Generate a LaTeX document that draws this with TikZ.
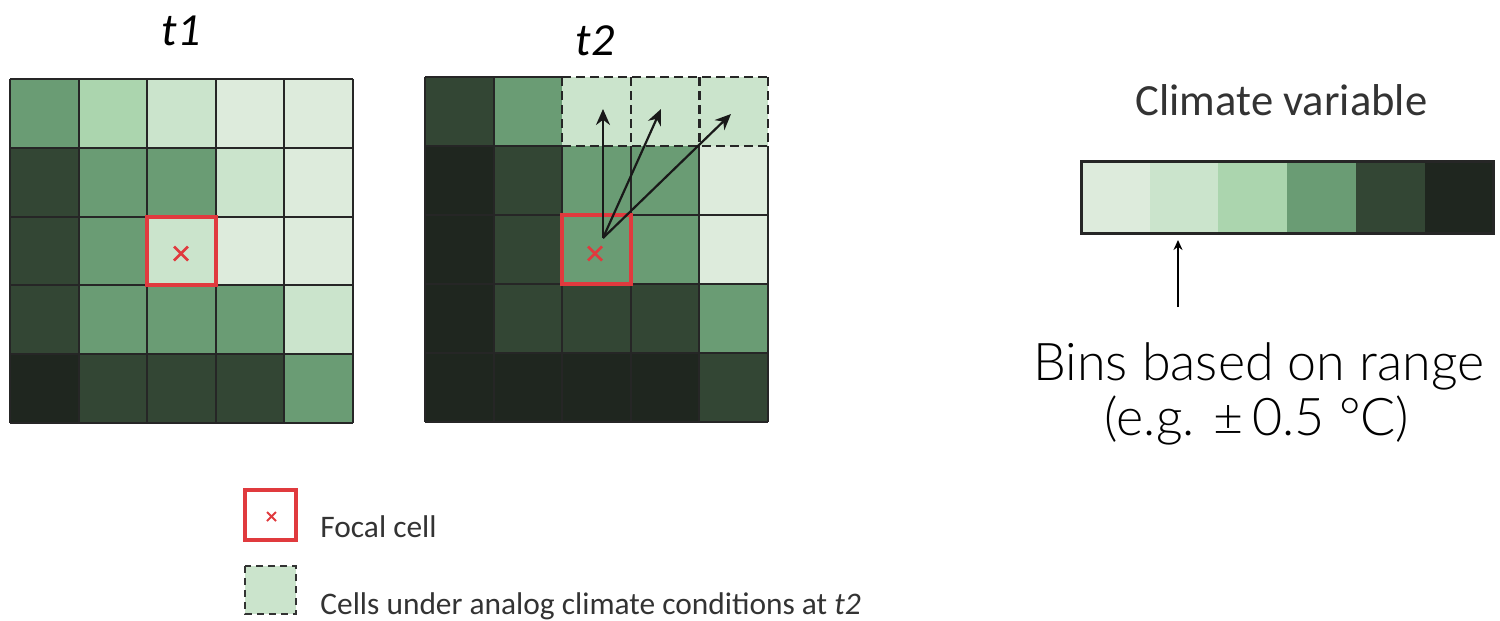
\documentclass[tikz,border=0pt]{standalone}
\usepackage{fontspec}
\newfontfamily\calfont{Carlito}
\IfFontExistsTF{Lato Light}{\newfontfamily\binfont{Lato Light}}{\newfontfamily\binfont{Lato}}
\usetikzlibrary{arrows.meta}
\definecolor{cA}{HTML}{DDEBDC}
\definecolor{cB}{HTML}{CBE4CC}
\definecolor{cC}{HTML}{ABD5AE}
\definecolor{cD}{HTML}{6A9C74}
\definecolor{cE}{HTML}{334634}
\definecolor{cF}{HTML}{1F261F}
\definecolor{focalred}{HTML}{E03A3E}
\definecolor{txtgray}{HTML}{333333}
\tikzset{
  gl/.style={draw=black!85, line width=1pt},
  dl/.style={draw=black!85, line width=1.1pt, dash pattern=on 4.5pt off 2.5pt},
  focal/.style={draw=focalred, line width=2pt},
  xmark/.style={draw=focalred, line width=1.4pt},
  arr/.style={draw=black!90, line width=1.1pt, -{Stealth[length=8pt,width=7pt]}},
  ttl/.style={font=\calfont\itshape\fontsize{23}{28}\selectfont, anchor=base, inner sep=0pt},
  leg/.style={font=\calfont\fontsize{15.7}{19}\selectfont, text=txtgray, anchor=base west, inner sep=0pt},
  bintxt/.style={font=\binfont\fontsize{26}{30}\selectfont, anchor=base, inner sep=0pt},
}
\begin{document}
\begin{tikzpicture}[x=0.5pt,y=-0.5pt]
\useasboundingbox (0,0) rectangle (1500,621);

% ---------- t1 grid ----------
\foreach \row [count=\r from 0] in {{cD,cC,cB,cA,cA},{cE,cD,cD,cB,cA},{cE,cD,cB,cA,cA},{cE,cD,cD,cD,cB},{cF,cE,cE,cE,cD}}{
  \foreach \col [count=\c from 0] in \row {
    \fill[\col] ({10+\c*68.6},{79+\r*68.8}) rectangle ++(68.6,68.8);
  }
}
\foreach \i in {0,...,5}{
  \draw[gl] ({10+\i*68.6},79) -- ({10+\i*68.6},423);
  \draw[gl] (10,{79+\i*68.8}) -- (353,{79+\i*68.8});
}
\draw[focal] (147.2,216.6) rectangle (215.8,285.4);
\draw[xmark] (174,246.5) -- (188,260.5) (174,260.5) -- (188,246.5);
\node[ttl] (t1) at (181,45) {t1};

% ---------- t2 grid ----------
\foreach \row [count=\r from 0] in {{cE,cD,cB,cB,cB},{cF,cE,cD,cD,cA},{cF,cE,cD,cD,cA},{cF,cE,cE,cE,cD},{cF,cF,cF,cF,cE}}{
  \foreach \col [count=\c from 0] in \row {
    \fill[\col] ({425+\c*68.6},{77+\r*69}) rectangle ++(68.6,69);
  }
}
\foreach \i in {0,1}{
  \draw[gl] ({425+\i*68.6},77) -- ({425+\i*68.6},422);
  \draw[gl] (425,{77+\i*69}) -- (562.2,{77+\i*69});
  \draw[dl] (562.2,{77+\i*69}) -- (768,{77+\i*69});
}
\foreach \i in {2,...,5}{
  \draw[gl] ({425+\i*68.6},146) -- ({425+\i*68.6},422);
  \draw[dl] ({425+\i*68.6},77) -- ({425+\i*68.6},146);
  \draw[gl] (425,{77+\i*69}) -- (768,{77+\i*69});
}
\draw[focal] (562.2,215) rectangle (630.8,284);
\draw[xmark] (588,246.5) -- (602,260.5) (588,260.5) -- (602,246.5);
\coordinate (src) at (603,238);
\coordinate (dst1) at (603,109);
\coordinate (dst2) at (661,109);
\coordinate (dst3) at (731,114);
\draw[arr] (src) -- (dst1);
\draw[arr] (src) -- (dst2);
\draw[arr] (src) -- (dst3);
\node[ttl] (t2) at (595,55) {t2};

% ---------- colour bar ----------
\foreach \col [count=\c from 0] in {cA,cB,cC,cD,cE,cF}{
  \fill[\col] ({1081+\c*68.7},161) rectangle ++(68.7,72);
}
\draw[draw=black!85, line width=1.5pt] (1081,161) rectangle (1493,233);
\node[font=\calfont\fontsize{22.3}{27}\selectfont, text=txtgray, anchor=base, inner sep=0pt] (cv) at (1281.5,115) {Climate variable};

\coordinate (binstail) at (1178,307);
\coordinate (binshead) at (1178,240);
\draw[draw=black, line width=1pt, -{Stealth[length=5pt,width=4.5pt]}] (binstail) -- (binshead);
\node[bintxt] (bins1) at (1259,380) {Bins based on range};
\node[bintxt] (bins2) at (1257,435) {(e.g. ±\,0.5 °C)};

% ---------- legend ----------
\draw[focal, line width=1.6pt] (245,490) rectangle (296,540);
\draw[xmark, line width=1pt] (267,512) -- (276,521) (267,521) -- (276,512);
\node[leg] (lg1) at (320,537) {Focal cell};
\fill[cB] (245,566) rectangle (296,614);
\draw[draw=black!80, line width=1pt, dash pattern=on 3.5pt off 2.5pt] (245,566) rectangle (296,614);
\node[leg] (lg2) at (320,614) {Cells under analog climate conditions at \textit{t2}};
\end{tikzpicture}
\end{document}
